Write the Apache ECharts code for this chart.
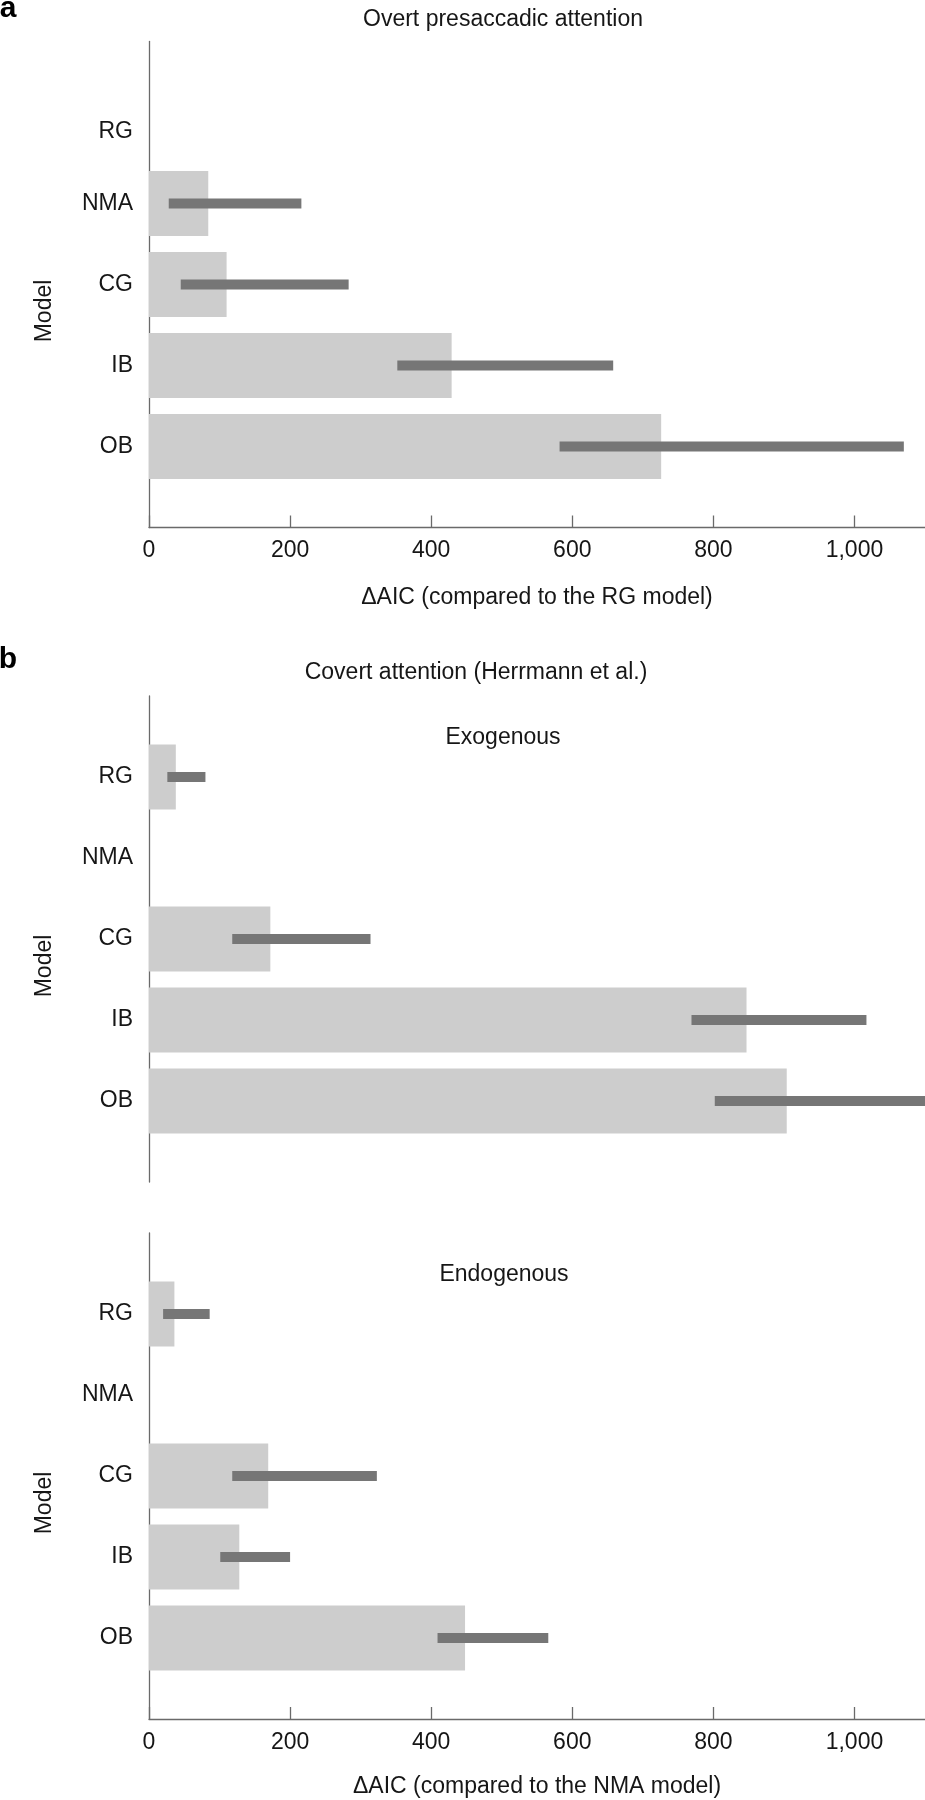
<!DOCTYPE html>
<html><head><meta charset="utf-8">
<script src="https://cdn.jsdelivr.net/npm/echarts@6/dist/echarts.min.js"></script>
<style>html,body{margin:0;padding:0;background:#fff}#c{width:925px;height:1800px}</style>
</head><body><div id="c"></div>
<script>
// ---- data ----
const models = ['RG', 'NMA', 'CG', 'IB', 'OB'];
const xTicks = [0, 200, 400, 600, 800, 1000];
const xMax = 1100;

// a: Overt presaccadic attention (ΔAIC vs RG)
const overtMean = [0, 84, 110, 429, 726];
const overtLow  = [null, 28, 45, 352, 582];
const overtHigh = [null, 216, 283, 658, 1070];

// b: Covert attention, Exogenous (ΔAIC vs NMA)
const exoMean = [38, 0, 172, 847, 904];
const exoLow  = [26, null, 118, 769, 802];
const exoHigh = [80, null, 314, 1017, 1100];

// b: Covert attention, Endogenous (ΔAIC vs NMA)
const endoMean = [36, 0, 169, 128, 448];
const endoLow  = [20, null, 118, 101, 409];
const endoHigh = [86, null, 323, 200, 566];

const titles = ['Overt presaccadic attention', 'Covert attention (Herrmann et al.)'];
const subTitles = ['Exogenous', 'Endogenous'];
const xNames = ['\u0394AIC (compared to the RG model)', '\u0394AIC (compared to the NMA model)'];

// ---- chart ----
const FONT = '"Liberation Sans", Arial, Helvetica, sans-serif';
const TXT = '#161616';
const AX = '#6a6a6a';
const cats = ['_top', ...models, '_bottom'];
const panels = [
  { mean: overtMean, low: overtLow, high: overtHigh, top: 41.5, showX: true, shiftFirst: true },
  { mean: exoMean, low: exoLow, high: exoHigh, top: 696, showX: false },
  { mean: endoMean, low: endoLow, high: endoHigh, top: 1233, showX: true }
];
const H = 486;

function renderErr(params, api) {
  const c = api.value(0);
  const p1 = api.coord([api.value(1), c]);
  const p2 = api.coord([api.value(2), c]);
  const h = 10;
  const cs = params.coordSys;
  const r = echarts.graphic.clipRectByRect(
    { x: p1[0], y: p1[1] - h / 2, width: p2[0] - p1[0], height: h },
    { x: cs.x, y: cs.y, width: cs.width, height: cs.height });
  return r ? { type: 'rect', shape: r, style: { fill: '#767676' } } : null;
}

const grid = [], xAxis = [], yAxis = [], series = [];
panels.forEach((p, i) => {
  grid.push({ left: 149, right: 0, top: p.top, height: H, containLabel: false });
  xAxis.push({
    type: 'value', gridIndex: i, min: 0, max: xMax, interval: 200, show: p.showX,
    axisLine: { show: true, lineStyle: { color: AX, width: 1.3 } },
    axisTick: { show: true, inside: true, length: 12, customValues: xTicks, lineStyle: { color: AX, width: 1.3 } },
    axisLabel: {
      customValues: xTicks, margin: 12, fontSize: 23, fontFamily: FONT, color: TXT,
      formatter: v => v.toLocaleString('en-US')
    },
    splitLine: { show: false }
  });
  yAxis.push({
    type: 'category', gridIndex: i, data: cats, inverse: true, boundaryGap: false,
    axisLine: { show: true, lineStyle: { color: AX, width: 1.3 } },
    axisTick: { show: false },
    axisLabel: {
      interval: 0, margin: 16, fontSize: 23, fontFamily: FONT, color: TXT,
      rich: { low: { fontSize: 23, fontFamily: FONT, color: TXT, padding: [19, 0, 0, 0] } },
      formatter: v => {
        const k = models.indexOf(v);
        if (k < 0) return '';
        return (p.shiftFirst && k === 0) ? '{low|' + v + '}' : v;
      }
    },
    splitLine: { show: false }
  });
  series.push({
    type: 'bar', xAxisIndex: i, yAxisIndex: i, barWidth: '80%', silent: true,
    itemStyle: { color: '#cdcdcd' },
    data: ['-', ...p.mean, '-']
  });
  const err = [];
  models.forEach((m, k) => { if (p.low[k] != null) err.push([k + 1, p.low[k], p.high[k]]); });
  series.push({
    type: 'custom', xAxisIndex: i, yAxisIndex: i, z: 5, silent: true,
    encode: { x: [1, 2], y: 0 },
    renderItem: renderErr,
    data: err
  });
});

function txt(x, y, text, extra) {
  return {
    type: 'text', x: x, y: y, silent: true,
    style: Object.assign({ text: text, fontSize: 23, fontFamily: FONT, fill: TXT, align: 'center', verticalAlign: 'middle' }, extra || {})
  };
}
const graphic = [
  txt(8, 9, 'a', { fontSize: 30, fontWeight: 'bold', fill: '#000' }),
  txt(8, 660, 'b', { fontSize: 30, fontWeight: 'bold', fill: '#000' }),
  txt(503, 20, titles[0]),
  txt(476, 673, titles[1]),
  txt(503, 738, subTitles[0]),
  txt(504, 1275, subTitles[1]),
  txt(537, 598, xNames[0]),
  txt(537, 1787, xNames[1])
];
[311, 966, 1503].forEach(y => {
  const t = txt(45, y, 'Model');
  t.rotation = Math.PI / 2;
  graphic.push(t);
});

const chart = echarts.init(document.getElementById('c'), null, { renderer: 'canvas' });
chart.setOption({
  animation: false,
  backgroundColor: '#fff',
  grid, xAxis, yAxis, series, graphic
});
</script>
</body></html>
